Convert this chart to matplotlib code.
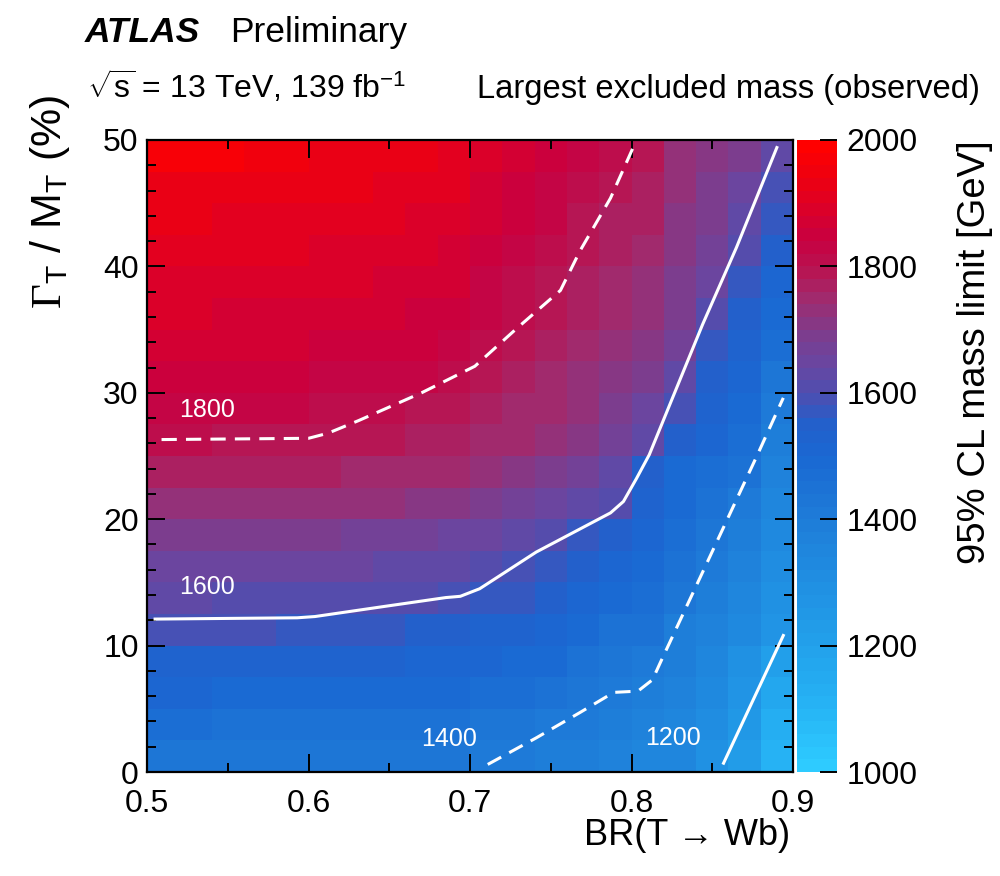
import numpy as np
import matplotlib
matplotlib.use("Agg")
from matplotlib import pyplot as plt
from matplotlib.colors import LinearSegmentedColormap, Normalize
from matplotlib.ticker import MultipleLocator

plt.rcParams['font.family'] = ['Liberation Sans', 'DejaVu Sans']
plt.rcParams['mathtext.fontset'] = 'custom'
plt.rcParams['mathtext.rm'] = 'Liberation Sans'
plt.rcParams['mathtext.it'] = 'Liberation Sans:italic'
plt.rcParams['mathtext.bf'] = 'Liberation Sans:bold'
plt.rcParams['mathtext.cal'] = 'Liberation Serif'

# ==============================================================
#  DATA
# ==============================================================

# bin centres
br_wb = [0.51, 0.53, 0.55, 0.57, 0.59, 0.61, 0.63, 0.65, 0.67, 0.69,
         0.71, 0.73, 0.75, 0.77, 0.79, 0.81, 0.83, 0.85, 0.87, 0.89]
width = [1.25, 3.75, 6.25, 8.75, 11.25, 13.75, 16.25, 18.75, 21.25, 23.75,
         26.25, 28.75, 31.25, 33.75, 36.25, 38.75, 41.25, 43.75, 46.25, 48.75]

# largest excluded mass [GeV], one row per width bin (bottom -> top)
mass_limit = [
    [1430, 1430, 1428, 1427, 1425, 1424, 1423, 1422, 1421, 1420, 1410, 1402, 1395, 1382, 1370, 1355, 1340, 1290, 1220, 1100],
    [1460, 1460, 1458, 1457, 1455, 1453, 1451, 1449, 1447, 1445, 1430, 1422, 1415, 1400, 1385, 1370, 1350, 1305, 1240, 1130],
    [1500, 1500, 1498, 1497, 1495, 1494, 1491, 1489, 1487, 1485, 1470, 1460, 1445, 1425, 1405, 1390, 1365, 1320, 1260, 1165],
    [1535, 1535, 1533, 1532, 1530, 1528, 1524, 1520, 1517, 1515, 1505, 1495, 1480, 1455, 1430, 1410, 1385, 1340, 1290, 1200],
    [1585, 1585, 1583, 1582, 1580, 1575, 1568, 1562, 1556, 1550, 1535, 1520, 1505, 1480, 1455, 1440, 1395, 1360, 1320, 1260],
    [1620, 1620, 1618, 1617, 1615, 1612, 1608, 1604, 1600, 1595, 1575, 1560, 1540, 1510, 1480, 1460, 1420, 1380, 1345, 1285],
    [1655, 1655, 1653, 1652, 1650, 1646, 1640, 1635, 1630, 1625, 1610, 1595, 1575, 1545, 1510, 1485, 1440, 1405, 1370, 1300],
    [1695, 1695, 1693, 1692, 1690, 1685, 1678, 1670, 1662, 1655, 1645, 1630, 1610, 1580, 1540, 1505, 1460, 1430, 1395, 1320],
    [1735, 1735, 1733, 1732, 1730, 1727, 1724, 1720, 1718, 1715, 1690, 1670, 1650, 1625, 1600, 1525, 1480, 1455, 1415, 1345],
    [1775, 1773, 1771, 1769, 1765, 1762, 1758, 1755, 1752, 1750, 1735, 1715, 1690, 1660, 1630, 1545, 1495, 1475, 1440, 1360],
    [1800, 1800, 1798, 1797, 1795, 1792, 1785, 1780, 1775, 1770, 1755, 1740, 1725, 1700, 1670, 1620, 1550, 1500, 1460, 1380],
    [1825, 1825, 1823, 1822, 1820, 1815, 1808, 1800, 1795, 1790, 1770, 1755, 1740, 1720, 1695, 1650, 1590, 1520, 1480, 1405],
    [1845, 1845, 1843, 1842, 1840, 1836, 1830, 1825, 1820, 1815, 1785, 1770, 1755, 1735, 1710, 1680, 1620, 1545, 1500, 1420],
    [1865, 1865, 1863, 1862, 1860, 1856, 1850, 1845, 1840, 1835, 1805, 1785, 1765, 1745, 1725, 1700, 1665, 1580, 1525, 1460],
    [1880, 1880, 1878, 1877, 1875, 1872, 1866, 1860, 1855, 1850, 1820, 1800, 1780, 1760, 1740, 1720, 1685, 1615, 1555, 1480],
    [1895, 1895, 1893, 1891, 1890, 1887, 1880, 1875, 1870, 1865, 1835, 1812, 1790, 1770, 1750, 1735, 1695, 1640, 1580, 1500],
    [1905, 1905, 1904, 1902, 1900, 1898, 1892, 1886, 1880, 1875, 1850, 1825, 1805, 1785, 1765, 1750, 1705, 1665, 1610, 1540],
    [1920, 1920, 1918, 1916, 1915, 1912, 1905, 1900, 1895, 1890, 1865, 1840, 1820, 1795, 1775, 1760, 1715, 1680, 1635, 1570],
    [1935, 1935, 1935, 1932, 1930, 1928, 1922, 1916, 1910, 1905, 1875, 1855, 1835, 1810, 1785, 1770, 1725, 1695, 1655, 1595],
    [1965, 1965, 1960, 1955, 1945, 1935, 1930, 1925, 1920, 1915, 1895, 1870, 1850, 1825, 1800, 1780, 1735, 1710, 1680, 1620],
]

# contour lines (observed)
c1800_x = [0.509, 0.600, 0.612, 0.631, 0.670, 0.703, 0.729, 0.756, 0.768, 0.787, 0.801]
c1800_y = [26.3, 26.4, 26.8, 27.8, 30.0, 32.1, 35.1, 38.1, 41.2, 45.4, 49.4]
c1600_x = [0.505, 0.593, 0.604, 0.647, 0.685, 0.694, 0.706, 0.741, 0.787, 0.795, 0.803, 0.811, 0.844, 0.865, 0.890]
c1600_y = [12.1, 12.2, 12.3, 13.1, 13.8, 13.9, 14.5, 17.4, 20.5, 21.4, 23.2, 25.1, 35.4, 41.5, 49.4]
c1400_x = [0.711, 0.741, 0.768, 0.789, 0.804, 0.813, 0.818, 0.844, 0.878, 0.894]
c1400_y = [0.6, 2.7, 4.7, 6.3, 6.4, 7.3, 8.7, 15.8, 25.1, 29.6]
c1200_x = [0.857, 0.894]
c1200_y = [0.7, 10.8]

contour_labels = ["1800", "1600", "1400", "1200"]
label_x = [0.537, 0.537, 0.687, 0.826]
label_y = [28.6, 14.6, 2.6, 2.7]

# palette stops (mass, colour)
pal_mass = [1000, 1100, 1200, 1300, 1400, 1500, 1550, 1600, 1650, 1700, 1750, 1800, 1850, 1900, 1950, 2000]
pal_col = ['#2ecbff', '#26b2f4', '#22a0ea', '#208ee2', '#1e7cd8', '#1a68d2', '#2260cc', '#4e4eb0',
           '#6a46a0', '#7e3c8c', '#9e2c70', '#b81452', '#c80040', '#dc0028', '#ee0010', '#ff0000']

# ==============================================================
#  FIGURE
# ==============================================================

zmin, zmax = 1000, 2000
cmap = LinearSegmentedColormap.from_list(
    "atlas", [((m - zmin) / (zmax - zmin), c) for m, c in zip(pal_mass, pal_col)]).resampled(50)
norm = Normalize(zmin, zmax)

fig = plt.figure(figsize=(10, 8.76), dpi=100)
ax = fig.add_axes([0.147, 0.1187, 0.646, 0.7215])
cax = fig.add_axes([0.797, 0.1187, 0.040, 0.7215])

x_edges = np.linspace(0.5, 0.9, len(br_wb) + 1)
y_edges = np.linspace(0, 50, len(width) + 1)
mesh = ax.pcolormesh(x_edges, y_edges, np.array(mass_limit), cmap=cmap, norm=norm)

lw = 2.2
ax.plot(c1800_x, c1800_y, color='white', lw=lw, dashes=(5, 3))
ax.plot(c1600_x, c1600_y, color='white', lw=lw)
ax.plot(c1400_x, c1400_y, color='white', lw=lw, dashes=(5, 3))
ax.plot(c1200_x, c1200_y, color='white', lw=lw)
for txt, lx, ly in zip(contour_labels, label_x, label_y):
    ax.text(lx, ly, txt, color='white', fontsize=18, ha='center', va='center')

ax.set_xlim(0.5, 0.9)
ax.set_ylim(0, 50)
ax.xaxis.set_major_locator(MultipleLocator(0.1))
ax.xaxis.set_minor_locator(MultipleLocator(0.05))
ax.yaxis.set_major_locator(MultipleLocator(10))
ax.yaxis.set_minor_locator(MultipleLocator(2))
ax.xaxis.set_major_formatter(lambda v, p: f"{v:.1f}")
ax.tick_params(which='both', direction='in', top=True, right=True, width=1.4, labelsize=23)
ax.tick_params(which='major', length=13)
ax.tick_params(which='minor', length=6.5)
ax.tick_params(axis='x', pad=12)
ax.tick_params(axis='y', pad=6)
for s in ax.spines.values():
    s.set_linewidth(1.6)

cb = fig.colorbar(mesh, cax=cax)
cb.outline.set_visible(False)
cb.set_ticks([1000, 1200, 1400, 1600, 1800, 2000])
cax.tick_params(direction='in', length=12, width=1.4, labelsize=23, pad=7)
cax.minorticks_off()

fig.text(0.05, 0.8916, r'$\mathcal{\Gamma}_{\mathrm{T}}$ / M$_{\mathrm{T}}$ (%)', rotation=90,
         ha='center', va='top', fontsize=31)
fig.text(0.975, 0.840, '95% CL mass limit [GeV]', rotation=90, ha='center', va='top', fontsize=27.5)
fig.text(0.79, 0.046, 'BR(T \u2192 Wb)', ha='right', va='center', fontsize=26)

fig.text(0.085, 0.952, 'ATLAS', fontsize=25.5, fontweight='bold', fontstyle='italic', va='baseline')
fig.text(0.230, 0.952, 'Preliminary', fontsize=25.5, va='baseline')
fig.text(0.087, 0.888, r'$\sqrt{\mathrm{s}}$ = 13 TeV, 139 fb$^{\mathrm{-1}}$', fontsize=23, va='baseline')
fig.text(0.980, 0.888, 'Largest excluded mass (observed)', fontsize=23.6, ha='right', va='baseline')

fig.savefig("out.png", dpi=100)
